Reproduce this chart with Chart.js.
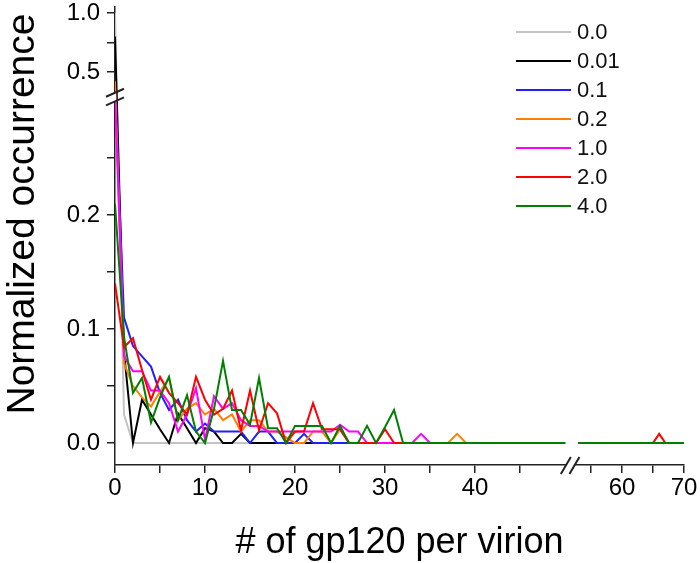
<!DOCTYPE html>
<html>
<head>
<meta charset="utf-8">
<script src="https://cdn.jsdelivr.net/npm/chart.js@4.4.0/dist/chart.umd.min.js"></script>
<style>
  body { margin: 0; background: #fff; }
  #wrap { position: relative; width: 700px; height: 563px; }
  #legend { position: absolute; left: 516px; top: 17px; font: 22px Arial, "Liberation Sans", sans-serif; color: #111; }
  #legend div { height: 29px; display: flex; align-items: center; }
  #legend span.swatch { display: inline-block; width: 55px; height: 2px; margin-right: 6px; }
</style>
</head>
<body>
<div id="wrap">
  <canvas id="chart" width="700" height="563"></canvas>
  <div id="legend"></div>
</div>
<script>
// bins of gp120 count (lower part of the broken x axis)
const bins = [0, 1, 2, 3, 4, 5, 6, 7, 8, 9, 10, 11, 12, 13, 14, 15, 16, 17, 18, 19, 20,
  21, 22, 23, 24, 25, 26, 27, 28, 29, 30, 31, 32, 33, 34, 35, 36, 37, 38, 39, 40];
// bins beyond 40 (end of lower segment, then upper segment after the break)
const tailBins = [50, 53, 65, 66, 67, 70];

const labels = ['0.0', '0.01', '0.1', '0.2', '1.0', '2.0', '4.0'];
const colors = ['#c4c4c4', '#000000', '#2020ff', '#ff8000', '#ff00ff', '#ff0000', '#008000'];

const gray = [1.0, 0.025, 0, 0, 0, 0, 0, 0, 0, 0, 0, 0, 0, 0, 0, 0, 0, 0, 0, 0, 0,
  0, 0, 0, 0, 0, 0, 0, 0, 0, 0, 0, 0, 0, 0, 0, 0, 0, 0, 0, 0];
const black = [0.8, 0.08, 0, 0.038, 0.025, 0.012, 0, 0.026, 0.013, 0, 0.013, 0.01, 0, 0, 0.008, 0, 0, 0, 0, 0, 0,
  0, 0, 0, 0, 0, 0, 0, 0, 0, 0, 0, 0, 0, 0, 0, 0, 0, 0, 0, 0];
const blue = [0.36, 0.11, 0.085, 0.076, 0.067, 0.044, 0.029, 0.038, 0.02, 0.01, 0.017, 0.01, 0.01, 0.01, 0.01, 0, 0.01, 0.01, 0, 0, 0,
  0.008, 0, 0, 0, 0, 0, 0, 0, 0, 0, 0, 0, 0, 0, 0, 0, 0, 0, 0, 0];
const orange = [0.42, 0.07, 0.05, 0.04, 0.032, 0.045, 0.057, 0.02, 0.03, 0.035, 0.025, 0.03, 0.02, 0.025, 0.01, 0.02, 0.02, 0.01, 0.01, 0.005, 0,
  0, 0.01, 0.01, 0, 0.012, 0, 0, 0, 0, 0, 0, 0, 0, 0, 0, 0, 0, 0.008, 0, 0];
const magenta = [0.34, 0.076, 0.063, 0.063, 0.046, 0.046, 0.035, 0.01, 0.025, 0.048, 0.003, 0.041, 0.03, 0.035, 0.02, 0.015, 0.015, 0.01, 0.01, 0.01, 0.01,
  0.01, 0.01, 0.01, 0.01, 0.016, 0.01, 0.01, 0, 0, 0, 0, 0, 0, 0.008, 0, 0, 0, 0, 0, 0];
const red = [0.14, 0.084, 0.092, 0.064, 0.038, 0.058, 0.044, 0.035, 0.025, 0.058, 0.038, 0.025, 0.03, 0.046, 0.011, 0.046, 0.011, 0.035, 0.026, 0, 0.01,
  0.01, 0.035, 0.012, 0.012, 0.012, 0, 0, 0, 0, 0.012, 0, 0, 0, 0, 0, 0, 0, 0, 0, 0];
const green = [0.21, 0.093, 0.044, 0.057, 0.018, 0.04, 0.058, 0.02, 0.042, 0.01, 0, 0.03, 0.072, 0.029, 0.029, 0.016, 0.057, 0.013, 0.013, 0, 0.015,
  0.015, 0.015, 0.015, 0, 0.015, 0, 0, 0.015, 0, 0.014, 0.029, 0, 0, 0, 0, 0, 0, 0, 0, 0];

const tailZero = [0, 0, 0, 0, 0, 0];
const tailRed = [0, 0, 0, 0.008, 0, 0];

const yTickValues = [0, 0.05, 0.1, 0.15, 0.2, 0.25, 0.5, 0.75, 1.0];
const yTickLabels = ['0.0', '', '0.1', '', '0.2', '', '0.5', '', '1.0'];
const xTickValues = [0, 5, 10, 15, 20, 25, 30, 35, 40, 45, 55, 60, 65, 70];
const xTickLabels = ['0', '', '10', '', '20', '', '30', '', '40', '', '', '60', '', '70'];

// broken axes: map real values onto a continuous display coordinate
function yAt(v) {
  if (v == null) return null;
  if (v <= 0.3) return v;
  if (v <= 0.35) return 0.3 + (v - 0.3) * 0.2;
  return 0.31 + (v - 0.35) * 0.1035;
}
function xAt(n) {
  if (n <= 50) return n;
  return 51.222 + (n - 52.6) * 0.6889;
}
const yBreak = 0.3035;
const xBreak = 50.56;

function points(low, tail) {
  const pts = bins.map((b, i) => ({ x: xAt(b), y: yAt(low[i]) }));
  tailBins.forEach((b, i) => {
    if (b > 50 && pts[pts.length - 1].x <= 50) pts.push({ x: xAt(51.5), y: null });
    pts.push({ x: xAt(b), y: yAt(tail[i]) });
  });
  return pts;
}

const series = [gray, black, blue, orange, magenta, red, green];
const datasets = series.map((s, i) => ({
  label: labels[i],
  data: points(s, i === 5 ? tailRed : tailZero),
  borderColor: colors[i],
  backgroundColor: colors[i],
  borderWidth: 2,
  pointRadius: 0,
  fill: false,
  tension: 0,
  order: series.length - i
}));

const axisBreaks = {
  id: 'axisBreaks',
  afterDraw(chart) {
    const { ctx, chartArea } = chart;
    const by = chart.scales.y.getPixelForValue(yBreak);
    const bx = chart.scales.x.getPixelForValue(xBreak);
    const l = chartArea.left, b = chartArea.bottom;
    ctx.save();
    ctx.fillStyle = '#fff';
    ctx.fillRect(l - 2, by - 4, 3, 8);
    ctx.fillRect(bx - 4, b - 2, 8, 4);
    ctx.strokeStyle = '#222';
    ctx.lineWidth = 2;
    [-4.3, 4.3].forEach(d => {
      ctx.beginPath();
      ctx.moveTo(l - 9, by + d + 4);
      ctx.lineTo(l + 9, by + d - 4);
      ctx.stroke();
      ctx.beginPath();
      ctx.moveTo(bx + d - 5, b + 9);
      ctx.lineTo(bx + d + 5, b - 8);
      ctx.stroke();
    });
    // y axis title
    ctx.translate(23, 214);
    ctx.rotate(-Math.PI / 2);
    ctx.fillStyle = '#000';
    ctx.font = '39px Arial';
    ctx.textAlign = 'center';
    ctx.textBaseline = 'middle';
    ctx.fillText('Normalized occurrence', 0, 0);
    ctx.restore();
  }
};

const tickFont = { family: 'Arial', size: 24 };

new Chart(document.getElementById('chart'), {
  type: 'line',
  data: { datasets: datasets },
  options: {
    responsive: false,
    animation: false,
    layout: { padding: { left: 0, top: 7, right: 16, bottom: 0 } },
    plugins: { legend: { display: false }, tooltip: { enabled: false } },
    scales: {
      x: {
        type: 'linear',
        min: 0,
        max: xAt(70),
        border: { color: '#222', width: 1.5 },
        grid: { drawOnChartArea: false, tickLength: 8, color: '#222', lineWidth: 1.5 },
        ticks: {
          autoSkip: false, maxRotation: 0, padding: 1, color: '#000', font: tickFont,
          callback: (v, i) => xTickLabels[i]
        },
        afterBuildTicks: s => { s.ticks = xTickValues.map(v => ({ value: xAt(v) })); },
        title: {
          display: true, text: '# of gp120 per virion', color: '#000', padding: 0,
          font: { family: 'Arial', size: 36, lineHeight: 1.1 }
        },
        afterFit: s => { s.height = 98; s.paddingLeft = 0; s.paddingRight = 0; }
      },
      y: {
        type: 'linear',
        min: -0.0193,
        max: 0.3825,
        border: { color: '#222', width: 1.5 },
        grid: { drawOnChartArea: false, tickLength: 8, color: '#222', lineWidth: 1.5 },
        ticks: {
          autoSkip: false, padding: 7, color: '#000', font: tickFont,
          callback: (v, i) => yTickLabels[i]
        },
        afterBuildTicks: s => { s.ticks = yTickValues.map(v => ({ value: yAt(v) })); },
        afterFit: s => { s.width = 115; s.paddingTop = 0; s.paddingBottom = 0; }
      }
    }
  },
  plugins: [axisBreaks]
});

// legend
const legend = document.getElementById('legend');
labels.forEach((name, i) => {
  const row = document.createElement('div');
  const sw = document.createElement('span');
  sw.className = 'swatch';
  sw.style.background = colors[i];
  row.appendChild(sw);
  row.appendChild(document.createTextNode(name));
  legend.appendChild(row);
});
</script>
</body>
</html>
